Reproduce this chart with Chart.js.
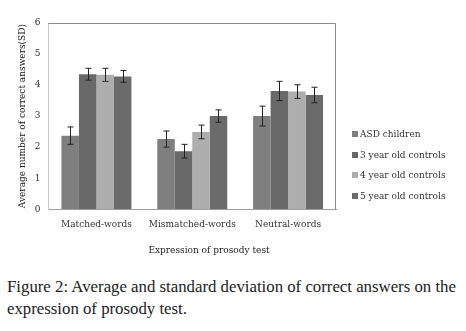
<!DOCTYPE html>
<html>
<head>
<meta charset="utf-8">
<script src="https://cdn.jsdelivr.net/npm/chart.js@4.4.1/dist/chart.umd.min.js"></script>
<style>
    html, body { margin: 0; padding: 0; background: #fff; }
    #wrap { position: relative; width: 466px; height: 262px; }
    #legend { position: absolute; left: 352px; top: 129px; font: 9px "DejaVu Serif", serif; color: #333; }
    #legend div { height: 20.5px; white-space: nowrap; }
    #legend span { display: inline-block; width: 6px; height: 6px; margin-right: 2px; }
    #xtitle { position: absolute; left: 110px; width: 198px; top: 245px; text-align: center; font: 9px "DejaVu Serif", serif; color: #222; }
    #caption { position: absolute; left: 7px; top: 276px; width: 462px; font: 16.8px "Liberation Serif", serif; line-height: 22px; color: #222; }
</style>
</head>
<body>
<div id="wrap"><canvas id="c" width="466" height="262"></canvas>
<div id="legend"></div>
<div id="xtitle">Expression of prosody test</div></div>
<div id="caption">Figure 2: Average and standard deviation of correct answers on the expression of prosody test.</div>
<script>
// ─── Data ─────────────────────────────────────────────────────────────────────
const categories = ['Matched-words', 'Mismatched-words', 'Neutral-words'];
const groups = ['ASD children', '3 year old controls', '4 year old controls', '5 year old controls'];
const colors = ['#7f7f7f', '#696969', '#aeaeae', '#6b6b6b'];

const asdMean = [2.37, 2.26, 3.0];
const age3Mean = [4.35, 1.87, 3.81];
const age4Mean = [4.33, 2.49, 3.79];
const age5Mean = [4.28, 3.0, 3.68];

const asdSD = [0.28, 0.26, 0.32];
const age3SD = [0.19, 0.22, 0.31];
const age4SD = [0.21, 0.22, 0.22];
const age5SD = [0.19, 0.2, 0.25];

const yTicks = [0, 1, 2, 3, 4, 5, 6];

const means = [asdMean, age3Mean, age4Mean, age5Mean];
const sds = [asdSD, age3SD, age4SD, age5SD];

// ─── Error bars + frame ───────────────────────────────────────────────────────
const errorBars = {
    id: 'errorBars',
    afterDatasetsDraw(chart) {
        const ctx = chart.ctx;
        const y = chart.scales.y;
        ctx.save();
        ctx.strokeStyle = '#222';
        ctx.lineWidth = 1;
        chart.data.datasets.forEach((ds, i) => {
            chart.getDatasetMeta(i).data.forEach((bar, j) => {
                const x = Math.round(bar.x) + 0.5;
                const top = y.getPixelForValue(ds.data[j] + sds[i][j]);
                const bot = y.getPixelForValue(ds.data[j] - sds[i][j]);
                ctx.beginPath();
                ctx.moveTo(x, top); ctx.lineTo(x, bot);
                ctx.moveTo(x - 3, top); ctx.lineTo(x + 3, top);
                ctx.moveTo(x - 3, bot); ctx.lineTo(x + 3, bot);
                ctx.stroke();
            });
        });
        const a = chart.chartArea;
        ctx.strokeStyle = '#8a8a8a';
        ctx.beginPath();
        ctx.moveTo(a.left, a.top + 0.5); ctx.lineTo(a.right - 0.5, a.top + 0.5);
        ctx.lineTo(a.right - 0.5, a.bottom);
        ctx.stroke();
        ctx.restore();
    }
};

Chart.defaults.font.family = '"DejaVu Serif", serif';
Chart.defaults.color = '#333';

new Chart(document.getElementById('c'), {
    type: 'bar',
    data: {
        labels: categories,
        datasets: groups.map((g, i) => ({
            label: g,
            data: means[i],
            backgroundColor: colors[i],
            barPercentage: 1,
            categoryPercentage: 0.73
        }))
    },
    options: {
        responsive: false,
        animation: false,
        layout: { padding: { left: 15, right: 130, top: 23, bottom: 22 } },
        plugins: { legend: { display: false }, tooltip: { enabled: false } },
        scales: {
            x: {
                grid: { display: false, drawTicks: false },
                border: { color: '#a0a0a0' },
                ticks: { font: { size: 9 }, padding: 10 },
                title: { display: false }
            },
            y: {
                min: 0, max: 6,
                afterBuildTicks: s => { s.ticks = yTicks.map(v => ({ value: v })); },
                grid: { display: false, drawOnChartArea: false, drawTicks: true, tickLength: 3, tickColor: '#999' },
                border: { color: '#c8c8c8' },
                ticks: { font: { size: 9 }, padding: 5 },
                title: { display: true, text: 'Average number of correct answers(SD)', font: { size: 9 }, color: '#222', padding: 2 }
            }
        }
    },
    plugins: [errorBars]
});

// ─── Legend ───────────────────────────────────────────────────────────────────
document.getElementById('legend').innerHTML = groups.map((g, i) =>
    `<div><span style="background:${colors[i]}"></span>${g}</div>`).join('');
</script>
</body>
</html>
